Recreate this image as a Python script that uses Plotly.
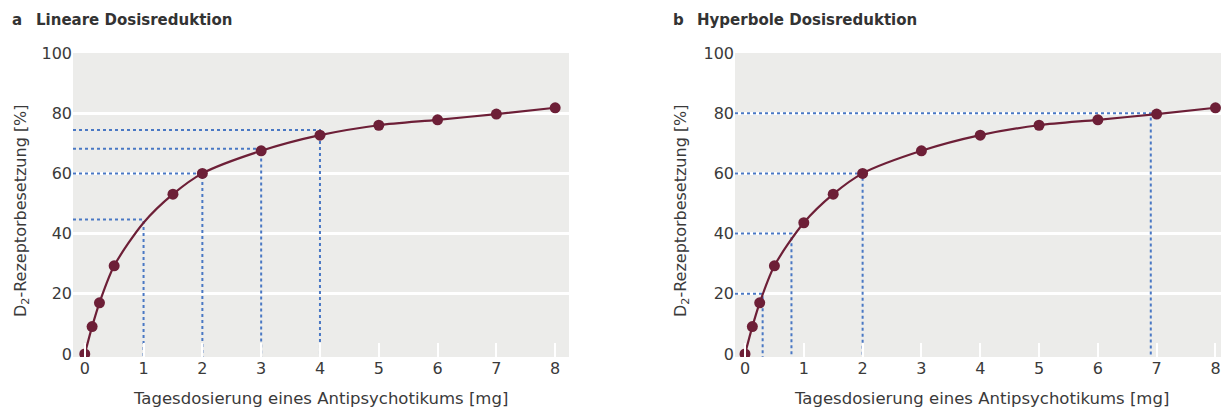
import plotly.graph_objects as go

# ---- data ----
dose = [0, 0.125, 0.25, 0.5, 1, 1.5, 2, 3, 4, 5, 6, 7, 8]
occupancy = [0, 9.1, 17.0, 29.3, 43.6, 53.1, 60.0, 67.5, 72.7, 76.0, 77.8, 79.7, 81.8]

# left panel: markers shown at all doses except 1 mg
left_marker_dose = [0, 0.125, 0.25, 0.5, 1.5, 2, 3, 4, 5, 6, 7, 8]
left_marker_occ = [0, 9.1, 17.0, 29.3, 53.1, 60.0, 67.5, 72.7, 76.0, 77.8, 79.7, 81.8]

# guide lines (dose, occupancy)
left_guide_dose = [1, 2, 3, 4]
left_guide_occ = [44.7, 60.0, 68.2, 74.4]
right_guide_dose = [0.3, 0.79, 2, 6.9]
right_guide_occ = [20, 40, 60, 80]

x_ticks = [0, 1, 2, 3, 4, 5, 6, 7, 8]
y_ticks = [0, 20, 40, 60, 80, 100]
y_grid = [20, 40, 60, 80]

panel_titles = ["Lineare Dosisreduktion", "Hyperbole Dosisreduktion"]
panel_letters = ["a", "b"]
x_title = "Tagesdosierung eines Antipsychotikums [mg]"
y_title = "D<sub>2</sub>-Rezeptorbesetzung [%]"

# ---- style ----
W, H = 1229, 410
OX, OY = 8, 8  # page offset of the figure
FONT = "DejaVu Sans"
TXT = "#3a3a3a"
CURVE = "#6d1f37"
GUIDE = "#4a78c4"
BG = "#ececea"

x_range_l = [-0.2, 8.235]
x_range_r = [-0.17, 8.23]
y_range = [-1, 100]


def px_x(s):
    return (s - OX) / W


def px_y(s):
    return 1 - (s - OY) / H


fig = go.Figure()


def guides(gx, gy, xa, ya, xmin):
    for d, o in zip(gx, gy):
        fig.add_trace(go.Scatter(
            x=[xmin, d, d], y=[o, o, y_range[0]], mode="lines",
            line=dict(color=GUIDE, width=2, dash="dot"),
            xaxis=xa, yaxis=ya, hoverinfo="skip", showlegend=False))


guides(left_guide_dose, left_guide_occ, "x", "y", x_range_l[0])
guides(right_guide_dose, right_guide_occ, "x2", "y2", x_range_r[0])

for xa, ya, mx, my in [("x", "y", left_marker_dose, left_marker_occ),
                       ("x2", "y2", dose, occupancy)]:
    fig.add_trace(go.Scatter(x=dose, y=occupancy, mode="lines",
                             line=dict(color=CURVE, width=2.2, shape="spline", smoothing=0.8),
                             xaxis=xa, yaxis=ya, showlegend=False))
    fig.add_trace(go.Scatter(x=mx, y=my, mode="markers",
                             marker=dict(color=CURVE, size=11),
                             xaxis=xa, yaxis=ya, showlegend=False))

yb = px_y(357)
yt = px_y(53)

xaxis_common = dict(tickmode="array", tickvals=x_ticks, ticks="inside", ticklen=14,
                    tickwidth=2, tickcolor="white", showgrid=False, zeroline=False,
                    showline=False, tickfont=dict(family=FONT, size=16, color=TXT),
                    fixedrange=True, automargin=False)
yaxis_common = dict(range=y_range, tickmode="array", tickvals=y_ticks, ticks="",
                    showgrid=False, zeroline=False, showline=False,
                    tickfont=dict(family=FONT, size=16, color=TXT),
                    minor=dict(tickmode="array", tickvals=y_grid, showgrid=True,
                               gridcolor="white", gridwidth=2.5, ticks=""),
                    domain=[yb, yt], fixedrange=True, automargin=False)

fig.update_layout(
    width=W, height=H, margin=dict(l=0, r=0, t=0, b=0, autoexpand=False),
    paper_bgcolor="white", plot_bgcolor=BG,
    xaxis=dict(domain=[px_x(73), px_x(569)], range=x_range_l, anchor="y", **xaxis_common),
    xaxis2=dict(domain=[px_x(735), px_x(1229)], range=x_range_r, anchor="y2", **xaxis_common),
    yaxis=dict(anchor="x", **yaxis_common),
    yaxis2=dict(anchor="x2", **yaxis_common),
    showlegend=False,
)

anns = []
for letter, title, lx, tx in [(panel_letters[0], panel_titles[0], 10, 34),
                              (panel_letters[1], panel_titles[1], 671, 695)]:
    anns.append(dict(text=f"<b>{letter}</b>", x=px_x(lx), y=px_y(20), xref="paper", yref="paper",
                     xanchor="left", yanchor="middle", showarrow=False,
                     font=dict(family=FONT, size=15, color="#333")))
    anns.append(dict(text=f"<b>{title}</b>", x=px_x(tx), y=px_y(20), xref="paper", yref="paper",
                     xanchor="left", yanchor="middle", showarrow=False,
                     font=dict(family=FONT, size=15, color="#333")))

for cx in [320, 981]:
    anns.append(dict(text=x_title, x=px_x(cx), y=px_y(398), xref="paper", yref="paper",
                     xanchor="center", yanchor="middle", showarrow=False,
                     font=dict(family=FONT, size=16.5, color=TXT)))
for cx in [21, 681]:
    anns.append(dict(text=y_title, x=px_x(cx), y=px_y(211), xref="paper", yref="paper",
                     xanchor="center", yanchor="middle", showarrow=False, textangle=-90,
                     font=dict(family=FONT, size=16, color=TXT)))

fig.update_layout(annotations=anns)

fig.write_html("out.html")
